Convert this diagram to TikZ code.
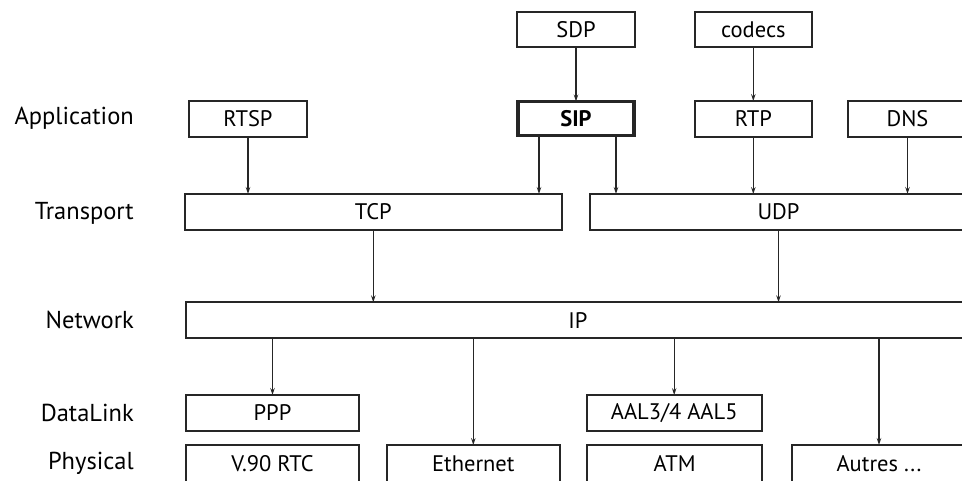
\documentclass[tikz,border=0pt]{standalone}
\usepackage{fontspec}
\setmainfont{PT Sans}
\usetikzlibrary{arrows.meta,calc}
\begin{document}
\begin{tikzpicture}[x=1pt,y=-1pt,
  box/.style={draw=black!85,line width=1.8pt,inner sep=0pt,outer sep=0pt,minimum height=36pt,font=\fontsize{22.5}{26}\selectfont},
  bold box/.style={box,line width=3.6pt,font=\fontsize{22.5}{26}\selectfont\bfseries},
  lbl/.style={anchor=east,inner sep=0pt,font=\fontsize{24.5}{28}\selectfont},
  arr/.style={draw=black!85,line width=1.3pt,-{Stealth[length=7pt,width=4.5pt,inset=2.5pt]}}]
\useasboundingbox (0,0) rectangle (962,480);
\begin{scope}
\clip (0,0) rectangle (962,480);
% labels
\node[lbl] (lApp) at (134,118) {Application};
\node[lbl] (lTr) at (134,213) {Transport};
\node[lbl] (lNet) at (134,320) {Network};
\node[lbl] (lDL) at (134,413) {DataLink};
\node[lbl] (lPh) at (134,463) {Physical};
% boxes
\node[box,minimum width=117.5pt,minimum height=35pt] (SDP) at (576,29.5) {SDP};
\node[box,minimum width=116.7pt,minimum height=35pt] (codecs) at (753.3,29.5) {codecs};
\node[box,minimum width=117.7pt] (RTSP) at (248,119) {RTSP};
\node[bold box,minimum width=116pt,minimum height=34pt] (SIP) at (576,118.5) {SIP};
\node[box,minimum width=116.7pt] (RTP) at (753.3,119) {RTP};
\node[box,minimum width=119pt] (DNS) at (907.5,119) {DNS};
\node[box,minimum width=376.7pt] (TCP) at (373.3,212) {TCP};
\node[box,minimum width=377pt] (UDP) at (778.5,212) {UDP};
\node[box,minimum width=784pt] (IP) at (578,320.3) {IP};
\node[box,minimum width=173.6pt] (PPP) at (272.5,413) {PPP};
\node[box,minimum width=175pt] (AAL) at (674.2,413) {AAL3/4 AAL5};
\node[box,minimum width=173.6pt,minimum height=37pt] (V90) at (272.5,463.5) {V.90 RTC};
\node[box,minimum width=173.3pt,minimum height=37pt] (Eth) at (473.3,463.5) {Ethernet};
\node[box,minimum width=174.7pt,minimum height=37pt] (ATM) at (674.7,463.5) {ATM};
\node[box,minimum width=174pt,minimum height=37pt] (Aut) at (879,463.5) {Autres ...};
% arrows
\draw[arr] (SDP.south) -- (SIP.north);
\draw[arr] (codecs.south) -- (RTP.north);
\draw[arr] (RTSP.south) -- (RTSP.south |- TCP.north);
\draw[arr] ([xshift=-37pt]SIP.south) -- ([xshift=-37pt]SIP.south |- TCP.north);
\draw[arr] ([xshift=40pt]SIP.south) -- ([xshift=40pt]SIP.south |- UDP.north);
\draw[arr] (RTP.south) -- (RTP.south |- UDP.north);
\draw[arr] (DNS.south) -- (DNS.south |- UDP.north);
\draw[arr] (TCP.south) -- (TCP.south |- IP.north);
\draw[arr] (UDP.south) -- (UDP.south |- IP.north);
\draw[arr] (IP.south -| PPP.north) -- (PPP.north);
\draw[arr] (IP.south -| Eth.north) -- (Eth.north);
\draw[arr] (IP.south -| AAL.north) -- (AAL.north);
\draw[arr] (IP.south -| Aut.north) -- (Aut.north);
\end{scope}
\end{tikzpicture}
\end{document}
